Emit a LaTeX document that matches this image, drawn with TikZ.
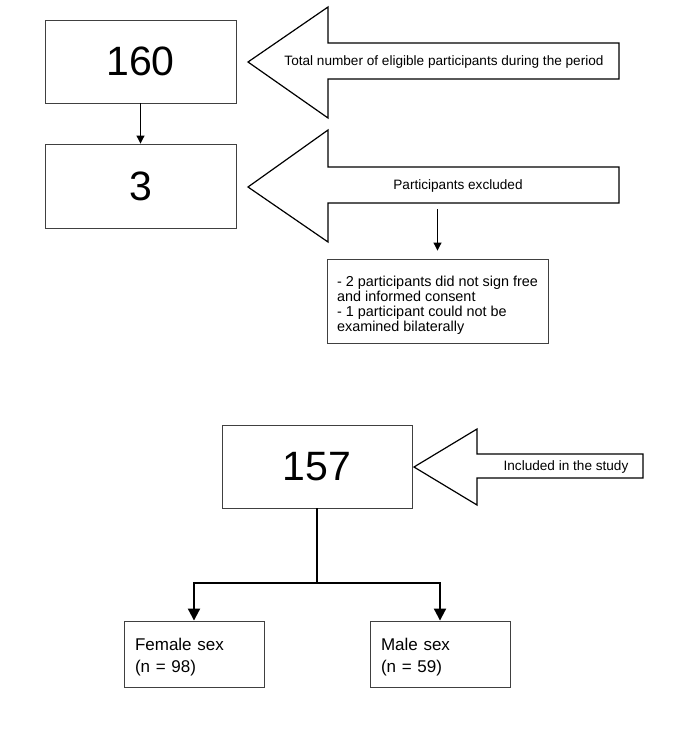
\documentclass[tikz,border=0pt]{standalone}
\usepackage{fontspec}
\setmainfont{Liberation Sans}
\usetikzlibrary{arrows.meta}
\begin{document}
\begin{tikzpicture}[x=1pt,y=-1pt,
  box/.style={draw=black!75,line width=0.9pt,inner sep=0pt},
  bignum/.style={font=\fontsize{41}{48}\selectfont},
  bigarrow/.style={draw,fill=white,line width=1.2pt,line join=miter},
  lbl/.style={font=\fontsize{13.6}{16}\selectfont},
  sexbox/.style={box,minimum width=140,minimum height=66,inner xsep=11pt,
    text width=118pt,align=left,font=\fontsize{17}{21.5}\selectfont}]
  \useasboundingbox (0,0) rectangle (700,750);
  % counts
  \node[box,bignum,minimum width=191,minimum height=83] (b160) at (140.5,61.5) {160};
  \node[box,bignum,minimum width=191,minimum height=84] (b3) at (140.5,186) {3};
  \node[box,bignum,minimum width=190,minimum height=83] (b157) at (317,466.5) {157};
  \draw[line width=1pt,-{Triangle[length=8pt,width=8pt]}] (b160) -- (b3);
  % big pointing arrows
  \draw[bigarrow] (248,62) -- (328,7) -- (328,43) -- (619,43) -- (619,79)
    -- (328,79) -- (328,118) -- cycle;
  \node[lbl] (ttotal) at (444,62) {Total number of eligible participants during the period};
  \draw[bigarrow] (248,187) -- (328,130) -- (328,167) -- (619,167) -- (619,203)
    -- (328,203) -- (328,242) -- cycle;
  \node[lbl] (texcl) at (458,186) {Participants excluded};
  \draw[bigarrow] (414,467) -- (477,429) -- (477,454) -- (643,454) -- (643,478)
    -- (477,478) -- (477,505) -- cycle;
  \node[lbl] (tincl) at (566,467) {Included in the study};
  % reasons
  \node[box,minimum width=221,minimum height=84,align=left,
    font=\fontsize{14.4}{15}\selectfont] (bexcl) at (437.5,301)
    {\rule{0pt}{18pt}- 2 participants did not sign free\\and informed consent\\- 1 participant could not be\\examined bilaterally};
  \coordinate (cexcl) at (437.5,209);
  \draw[line width=1pt,-{Triangle[length=8pt,width=8pt]},shorten >=8pt] (cexcl) -- (bexcl);
  % split by sex
  \node[sexbox] (bfemale) at (194,654) {\rule{0pt}{19pt}Female sex\\(n = 98)};
  \node[sexbox] (bmale) at (440,654) {\rule{0pt}{19pt}Male sex\\(n = 59)};
  \coordinate (split) at (317,582.5);
  \draw[line width=2pt] (b157) -- (split);
  \draw[line width=2pt,-{Triangle[length=12pt,width=12pt]}] (split) -| (bfemale);
  \draw[line width=2pt,-{Triangle[length=12pt,width=12pt]}] (split) -| (bmale);
\end{tikzpicture}
\end{document}
